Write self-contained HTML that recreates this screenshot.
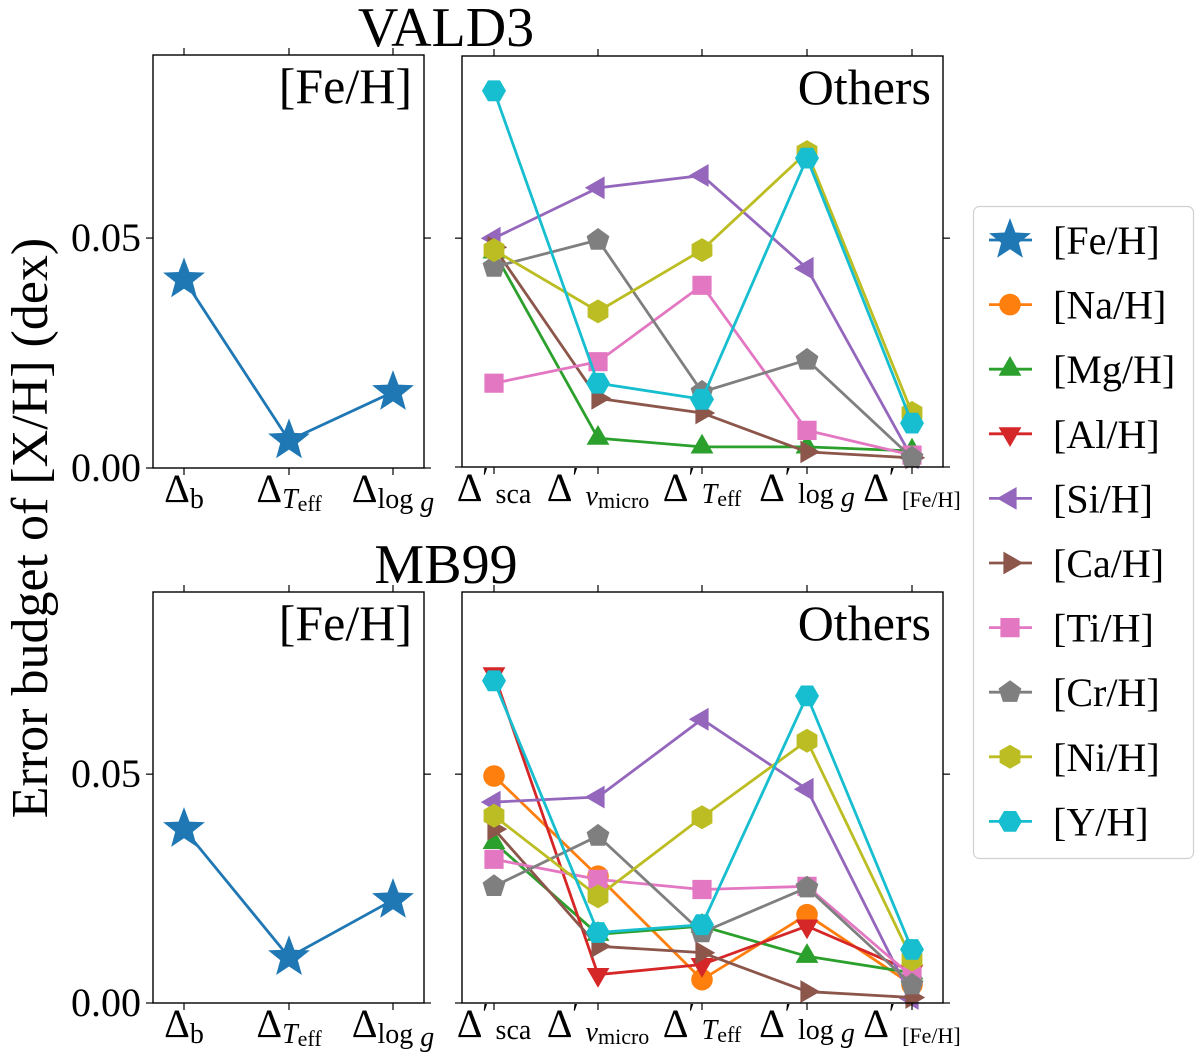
<!DOCTYPE html>
<html><head><meta charset="utf-8"><style>
html,body{margin:0;padding:0;background:#fff;}
svg{display:block;font-family:"Liberation Serif",serif;}
</style></head><body>
<svg id="chart" width="1200" height="1064" viewBox="0 0 1200 1064" xmlns="http://www.w3.org/2000/svg"></svg>
<script>
const elements = ["Fe","Na","Mg","Al","Si","Ca","Ti","Cr","Ni","Y"];
const colors = ["#1f77b4","#ff7f0e","#2ca02c","#d62728","#9467bd","#8c564b","#e377c2","#7f7f7f","#bcbd22","#17becf"];
const markers = ["star","circle","tri-up","tri-down","tri-left","tri-right","square","pentagon","hexagon","hexagon2"];
const yTicks = [0.00, 0.05];
const yTickLabels = ["0.00","0.05"];
// VALD3 (top)
const valdFe = [0.041, 0.006, 0.0165];
const valdNa = [null,null,null,null,null];
const valdMg = [0.047, 0.0063, 0.0044, 0.0044, 0.0035];
const valdAl = [null,null,null,null,null];
const valdSi = [0.050, 0.061, 0.0637, 0.0434, 0.002];
const valdCa = [0.048, 0.015, 0.0118, 0.0033, 0.002];
const valdTi = [0.0183, 0.023, 0.0397, 0.008, 0.0026];
const valdCr = [0.0437, 0.0496, 0.0164, 0.0234, 0.002];
const valdNi = [0.0474, 0.034, 0.0474, 0.0688, 0.0118];
const valdY  = [0.0822, 0.0183, 0.0148, 0.0675, 0.0096];
// MB99 (bottom)
const mbFe = [0.038, 0.010, 0.0225];
const mbNa = [0.0496, 0.0277, 0.0051, 0.0193, 0.004];
const mbMg = [0.0351, 0.015, 0.0168, 0.0102, 0.0066];
const mbAl = [0.0719, 0.0062, 0.0084, 0.0168, 0.0069];
const mbSi = [0.0439, 0.045, 0.062, 0.0467, 0.001];
const mbCa = [0.038, 0.0124, 0.011, 0.0025, 0.0012];
const mbTi = [0.0314, 0.027, 0.0248, 0.0255, 0.0058];
const mbCr = [0.0255, 0.0365, 0.0154, 0.0252, 0.004];
const mbNi = [0.0409, 0.0233, 0.0406, 0.0573, 0.0095];
const mbY  = [0.0704, 0.0154, 0.0171, 0.0671, 0.0117];

const NS="http://www.w3.org/2000/svg";
const svg=document.getElementById('chart');
function mk(tag,attrs,parent){const e=document.createElementNS(NS,tag);for(const k in attrs)e.setAttribute(k,attrs[k]);(parent||svg).appendChild(e);return e;}

function markerPath(type,cx,cy,r){
  let pts=[];
  const poly=(n,rot,rad)=>{for(let i=0;i<n;i++){const a=rot+i*2*Math.PI/n;pts.push([cx+rad*Math.cos(a),cy+rad*Math.sin(a)]);}};
  if(type==="star"){for(let i=0;i<10;i++){const a=-Math.PI/2+i*Math.PI/5;const rr=i%2?r*0.42:r;pts.push([cx+rr*Math.cos(a),cy+rr*Math.sin(a)]);}}
  else if(type==="tri-up")poly(3,-Math.PI/2,r*1.1);
  else if(type==="tri-down")poly(3,Math.PI/2,r*1.1);
  else if(type==="tri-left")poly(3,Math.PI,r*1.1);
  else if(type==="tri-right")poly(3,0,r*1.1);
  else if(type==="square"){pts=[[cx-r*0.8,cy-r*0.8],[cx+r*0.8,cy-r*0.8],[cx+r*0.8,cy+r*0.8],[cx-r*0.8,cy+r*0.8]];}
  else if(type==="pentagon")poly(5,-Math.PI/2,r);
  else if(type==="hexagon")poly(6,-Math.PI/2,r);
  else if(type==="hexagon2")poly(6,0,r);
  return "M"+pts.map(p=>p[0].toFixed(1)+","+p[1].toFixed(1)).join("L")+"Z";
}
function drawMarker(g,type,cx,cy,r,color){
  if(type==="circle")return mk('circle',{cx:cx,cy:cy,r:r*0.9,fill:color},g);
  return mk('path',{d:markerPath(type,cx,cy,r),fill:color},g);
}

function tickLabel(parent,x,y,parts){
  const t=mk('text',{x:x,y:y,'text-anchor':'middle','font-size':40,fill:'#000'},parent);
  parts.forEach(p=>{const s=mk('tspan',{},t);s.textContent=p.t;
    s.setAttribute('font-size',p.fs||40);
    if(p.dy)s.setAttribute('dy',p.dy);
    if(p.it)s.setAttribute('font-style','italic');});
  return t;
}
const leftLabels=[
 [{t:"Δ"},{t:"b",fs:28,dy:6}],
 [{t:"Δ"},{t:"T",fs:28,it:1,dy:6},{t:"eff",fs:22,dy:3}],
 [{t:"Δ"},{t:"log ",fs:28,dy:6},{t:"g",fs:28,it:1,dy:3}]];
const rightLabels=[
 [{t:"Δ"},{t:"′ ",fs:28,dy:-14},{t:"sca",fs:28,dy:16}],
 [{t:"Δ"},{t:"′ ",fs:28,dy:-14},{t:"v",fs:28,it:1,dy:18},{t:"micro",fs:22,dy:3}],
 [{t:"Δ"},{t:"′ ",fs:28,dy:-14},{t:"T",fs:28,it:1,dy:16},{t:"eff",fs:22,dy:3}],
 [{t:"Δ"},{t:"′ ",fs:28,dy:-14},{t:"log ",fs:28,dy:16},{t:"g",fs:28,it:1,dy:3}],
 [{t:"Δ"},{t:"′ ",fs:28,dy:-14},{t:"[Fe/H]",fs:22,dy:20}]];

function panel(name,x0,x1,top,bottom,xs,xlabels,series,label){
  const g=mk('g',{});  
  const y0=bottom, y05=bottom-(bottom-top)*0.05/0.0898;
  const ys=v=>y0+(y05-y0)*v/0.05;
  series.forEach(s=>{
    const sg=mk('g',{},g);  
    const pts=[];s.vals.forEach((v,i)=>{if(v!==null)pts.push([xs[i],ys(v)]);});
    if(!pts.length)return;
    mk('polyline',{points:pts.map(p=>p.join(",")).join(" "),fill:'none',stroke:s.color,'stroke-width':2.8},sg);
    pts.forEach(p=>drawMarker(sg,s.marker,p[0],p[1],s.r,s.color));
  });
  mk('rect',{x:x0,y:top,width:x1-x0,height:bottom-top,fill:'none',stroke:'#000','stroke-width':1.4},g);
  xs.forEach((x,i)=>{mk('line',{x1:x,x2:x,y1:bottom,y2:bottom+7,stroke:'#000','stroke-width':1.2},g);
    mk('line',{x1:x,x2:x,y1:top,y2:top-7,stroke:'#000','stroke-width':1.2},g);
    const tl=tickLabel(g,x,bottom+34,xlabels[i]);  });
  yTicks.forEach((v,i)=>{const y=ys(v);
    mk('line',{x1:x0-7,x2:x0,y1:y,y2:y,stroke:'#000','stroke-width':1.2},g);
    mk('line',{x1:x1,x2:x1+7,y1:y,y2:y,stroke:'#000','stroke-width':1.2},g);
    if(x0<200){const t=mk('text',{x:x0-12,y:y+13,'text-anchor':'end','font-size':40},g);t.textContent=yTickLabels[i];
      }});
  const lt=mk('text',{x:x1-12,y:top+48,'text-anchor':'end','font-size':50},g);lt.textContent=label;
  
}
const leftX=[184,289,393], rightX=[494,598,702,807,912];
const vald=[valdNa,valdMg,valdAl,valdSi,valdCa,valdTi,valdCr,valdNi,valdY];
const mb=[mbNa,mbMg,mbAl,mbSi,mbCa,mbTi,mbCr,mbNi,mbY];
function others(arr){return arr.map((v,i)=>({el:elements[i+1],vals:v,color:colors[i+1],marker:markers[i+1],r:12}));}
panel('vald3-feh-panel',153,424,55,468,leftX,leftLabels,[{el:'Fe',vals:valdFe,color:colors[0],marker:'star',r:22}],'[Fe/H]');
panel('vald3-others-panel',462,943,56,467,rightX,rightLabels,others(vald),'Others');
panel('mb99-feh-panel',153,424,592,1003,leftX,leftLabels,[{el:'Fe',vals:mbFe,color:colors[0],marker:'star',r:22}],'[Fe/H]');
panel('mb99-others-panel',462,943,592,1003,rightX,rightLabels,others(mb),'Others');

let t=mk('text',{x:446,y:46,'text-anchor':'middle','font-size':56});t.textContent='VALD3';

t=mk('text',{x:446,y:583,'text-anchor':'middle','font-size':56});t.textContent='MB99';

t=mk('text',{x:0,y:0,'text-anchor':'middle','font-size':52,transform:'translate(47,528) rotate(-90)'});t.textContent='Error budget of [X/H]  (dex)';


const lg=mk('g',{});
mk('rect',{x:973.5,y:206.5,width:220,height:652,rx:6,fill:'#fff',stroke:'#d0d0d0','stroke-width':1.2},lg);
elements.forEach((e,i)=>{const y=240+i*64.6;
  const eg=mk('g',{},lg);
  mk('line',{x1:989,x2:1032,y1:y,y2:y,stroke:colors[i],'stroke-width':2.8},eg);
  drawMarker(eg,markers[i],1010,y,i===0?22:12,colors[i]);
  const tx=mk('text',{x:1053,y:y+14,'font-size':40},eg);tx.textContent='['+e+'/H]';});
</script>
</body></html>
